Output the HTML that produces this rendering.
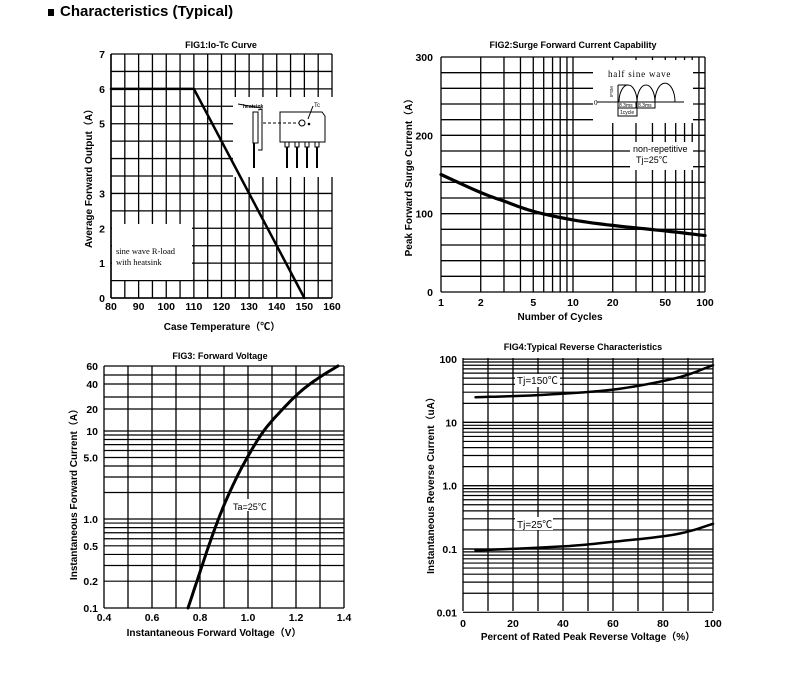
<!DOCTYPE html>
<html><head><meta charset="utf-8">
<style>
html,body{margin:0;padding:0;background:#fff;}
svg{display:block;font-family:"Liberation Sans","Noto Sans CJK SC",sans-serif;}
</style></head>
<body>
<svg id="s" width="796" height="696" viewBox="0 0 796 696" xmlns="http://www.w3.org/2000/svg">
<rect x="48" y="9" width="6" height="7" fill="#000"/>
<text x="60" y="16" font-size="15" font-weight="bold">Characteristics (Typical)</text>
<g id="g"></g>
</svg>
<script>
const g=document.getElementById('g');let h='';
const L=(x1,y1,x2,y2,w)=>h+=`<line x1="${x1}" y1="${y1}" x2="${x2}" y2="${y2}" stroke="#000" stroke-width="${w||1}"/>`;
const T=(x,y,t,o)=>{o=o||{};h+=`<text x="${x}" y="${y}" font-size="${o.s||10}" ${o.b!==false?'font-weight="bold"':''} text-anchor="${o.a||'middle'}" ${o.r?`transform="rotate(-90 ${x} ${y})"`:''}>${t}</text>`};
const P=(pts,w)=>h+=`<polyline fill="none" stroke="#000" stroke-width="${w||3}" stroke-linejoin="round" stroke-linecap="round" points="${pts.map(p=>p.join(',')).join(' ')}"/>`;
const R=(x,y,w,hh)=>h+=`<rect x="${x}" y="${y}" width="${w}" height="${hh}" fill="#fff"/>`;
function cr(pts,n){const o=[];for(let i=0;i<pts.length-1;i++){const a=pts[Math.max(i-1,0)],b=pts[i],c=pts[i+1],d=pts[Math.min(i+2,pts.length-1)];for(let k=0;k<n;k++){const t=k/n,t2=t*t,t3=t2*t;const q=j=>0.5*(2*b[j]+(-a[j]+c[j])*t+(2*a[j]-5*b[j]+4*c[j]-d[j])*t2+(-a[j]+3*b[j]-3*c[j]+d[j])*t3);o.push([q(0).toFixed(1),q(1).toFixed(1)]);}}o.push(pts[pts.length-1]);return o;}
const TK={s:10.5};
// FIG1
{const x0=111,x1=332,y0=298,yt=54;const X=v=>x0+(v-80)*(x1-x0)/80,Y=v=>y0-v*(y0-yt)/7;
for(let v=80;v<=160;v+=5)L(X(v),yt,X(v),y0,1.3);
for(let v=0;v<=7;v+=0.5)L(x0,Y(v),x1,Y(v),1.3);
L(x0,yt,x0,y0,1.5);L(x0,y0,x1,y0,1.5);
R(233,97,100,80);R(112,224,80,56);
P([[X(80),Y(6)],[X(110),Y(6)],[X(150),Y(0)]],2.5);
for(let v=80;v<=160;v+=10)T(X(v),y0+12,v,TK);
[0,1,2,3,5,6,7].forEach(v=>T(x0-6,Y(v)+4,v,{a:'end',s:10.5}));
T(221,48,'FIG1:Io-Tc Curve',{s:9});
T(222,330,'Case Temperature（℃）',{s:10});
T(92,176,'Average Forward Output（A）',{s:10,r:true});
h+=`<text x="116" y="254" font-size="8.5" font-family="Liberation Serif,serif">sine wave R-load</text><text x="116" y="265" font-size="8.5" font-family="Liberation Serif,serif">with heatsink</text>`;
h+=`<g stroke="#000" fill="#fff" stroke-width="1"><rect x="253" y="112" width="5" height="31"/><polyline fill="none" points="258,110 262,109 262,150 258,150"/><line x1="254" y1="143" x2="254" y2="168" stroke-width="2"/><line x1="238" y1="104" x2="261" y2="108"/><path d="M280 112 L322 112 L325 116 L325 142 L280 142 Z"/><circle cx="302" cy="123" r="3"/><line x1="263" y1="123" x2="299" y2="123" stroke-dasharray="3,2"/><line x1="308" y1="119" x2="313" y2="106"/>`;
[287,297,307,317].forEach(x=>h+=`<rect x="${x-2}" y="142" width="4" height="5"/><line x1="${x}" y1="147" x2="${x}" y2="168" stroke-width="2"/>`);
h+=`</g><circle cx="309" cy="124" r="1.3"/><text x="243" y="108" font-size="5" font-weight="bold">heatsink</text><text x="314" y="107" font-size="6">Tc</text>`;
}
// FIG2
{const x0=441,x1=705,y0=292,yt=57;const X=v=>x0+Math.log10(v)*(x1-x0)/2,Y=v=>y0-v*(y0-yt)/300;
[1,2,3,4,5,6,7,8,9,10,20,30,40,50,60,70,80,90,100].forEach(v=>L(X(v),yt,X(v),y0,1.3));
for(let v=0;v<=300;v+=20)L(x0,Y(v),x1,Y(v),1.3);
R(593,60,100,63);R(630,142,63,28);
P(cr([[1,150],[2,127],[3,116],[5,103],[10,92],[20,85],[50,78],[100,72]].map(p=>[X(p[0]),Y(p[1])]),8),3.2);
[1,2,5,10,20,50,100].forEach(v=>T(X(v),y0+14,v,TK));
[0,100,200,300].forEach(v=>T(x0-8,Y(v)+4,v,{a:'end',s:10.5}));
T(573,48,'FIG2:Surge Forward Current Capability',{s:9});
T(560,320,'Number of Cycles',{s:10});
T(412,175,'Peak Forward Surge Current（A）',{s:10,r:true});
h+=`<text x="608" y="77" font-size="9" font-family="Liberation Serif,serif" letter-spacing="0.8">half sine wave</text>
<g stroke="#000" fill="none" stroke-width="1"><line x1="597" y1="102" x2="684" y2="102"/><line x1="618" y1="85" x2="618" y2="102"/><path d="M619 102 A9 17 0 0 1 637 102 A9 17 0 0 1 655 102 A9 17 0 0 1 675 102"/><line x1="618" y1="85" x2="628" y2="85"/><rect x="618" y="102" width="18" height="6"/><rect x="637" y="102" width="18" height="6"/><rect x="618" y="108" width="19" height="8"/></g>
<text x="594" y="105" font-size="7" font-family="Liberation Serif,serif">0</text><text x="613" y="97" font-size="4.5" transform="rotate(-90 613 97)">IFSM</text><text x="619" y="107" font-size="5">8.3ms</text><text x="638" y="107" font-size="5">8.3ms</text><text x="620" y="114" font-size="5">1cycle</text>
<text x="633" y="152" font-size="9">non-repetitive</text><text x="636" y="163" font-size="9">Tj=25℃</text>`;
}
// FIG3
{const x0=104,x1=344,y0=608,yt=366;const X=v=>x0+(v-0.4)*(x1-x0);
const K=[[0.1,608],[1,519],[10,431],[20,409],[30,397],[40,384],[50,375],[60,366]];
const Y=v=>{for(let i=0;i<K.length-1;i++){const a=K[i],b=K[i+1];if(v<=b[0]+1e-9){const t=(Math.log10(v)-Math.log10(a[0]))/(Math.log10(b[0])-Math.log10(a[0]));return a[1]+t*(b[1]-a[1]);}}return 366;};
for(let v=0.4;v<=1.401;v+=0.1)L(X(v),yt,X(v),y0,1.3);
[0.1,0.2,0.3,0.4,0.5,0.6,0.7,0.8,0.9,1,2,3,4,5,6,7,8,9,10,20,30,40,50,60].forEach(v=>L(x0,Y(v),x1,Y(v),1.2));
R(228,499,34,12);
P(cr([[188,608],[198,578],[208,548],[220,515],[233,485],[247,458],[263,432],[280,412],[300,392],[320,377],[338,366]],10),3);
[['0.4',0.4],['0.6',0.6],['0.8',0.8],['1.0',1],['1.2',1.2],['1.4',1.4]].forEach(p=>T(X(p[1]),y0+13,p[0],TK));
[['60',60],['40',40],['20',20],['10',10],['5.0',5],['1.0',1],['0.5',0.5],['0.2',0.2],['0.1',0.1]].forEach(p=>T(x0-6,Y(p[1])+4,p[0],{a:'end',s:10.5}));
T(220,359,'FIG3: Forward Voltage',{s:9});
T(214,636,'Instantaneous Forward Voltage（V）',{s:10});
T(77,492,'Instantaneous Forward Current（A）',{s:10,r:true});
T(233,510,'Ta=25℃',{s:9,a:'start',b:false});
}
// FIG4
{const x0=463,x1=713,y0=611,yt=358;const X=v=>x0+v*2.5,Y=v=>549-63.3*Math.log10(v/0.1);
for(let v=0;v<=100;v+=10)L(X(v),yt,X(v),y0,1.3);
for(let d=0.01;d<99;d*=10)for(let m=1;m<=10;m++)L(x0,Y(d*m),x1,Y(d*m),1.2);
R(515,374,45,13);R(515,517,38,13);
P(cr([[5,25],[30,27],[60,33],[85,50],[100,80]].map(p=>[X(p[0]),Y(p[1])]),10),2.5);
P(cr([[5,0.095],[40,0.11],[60,0.13],[85,0.17],[100,0.25]].map(p=>[X(p[0]),Y(p[1])]),10),2.5);
for(let v=0;v<=100;v+=20)T(X(v),y0+16,v,TK);
[['100',100],['10',10],['1.0',1],['0.1',0.1],['0.01',0.01]].forEach(p=>T(x0-6,Y(p[1])+4,p[0],{a:'end',s:10.5}));
T(583,350,'FIG4:Typical Reverse Characteristics',{s:9});
T(588,640,'Percent of Rated Peak Reverse Voltage（%）',{s:10});
T(434,483,'Instantaneous Reverse Current（uA）',{s:10,r:true});
T(517,384,'Tj=150℃',{s:10,a:'start',b:false});
T(517,528,'Tj=25℃',{s:10,a:'start',b:false});
}
g.innerHTML=h;
</script>
</body></html>
